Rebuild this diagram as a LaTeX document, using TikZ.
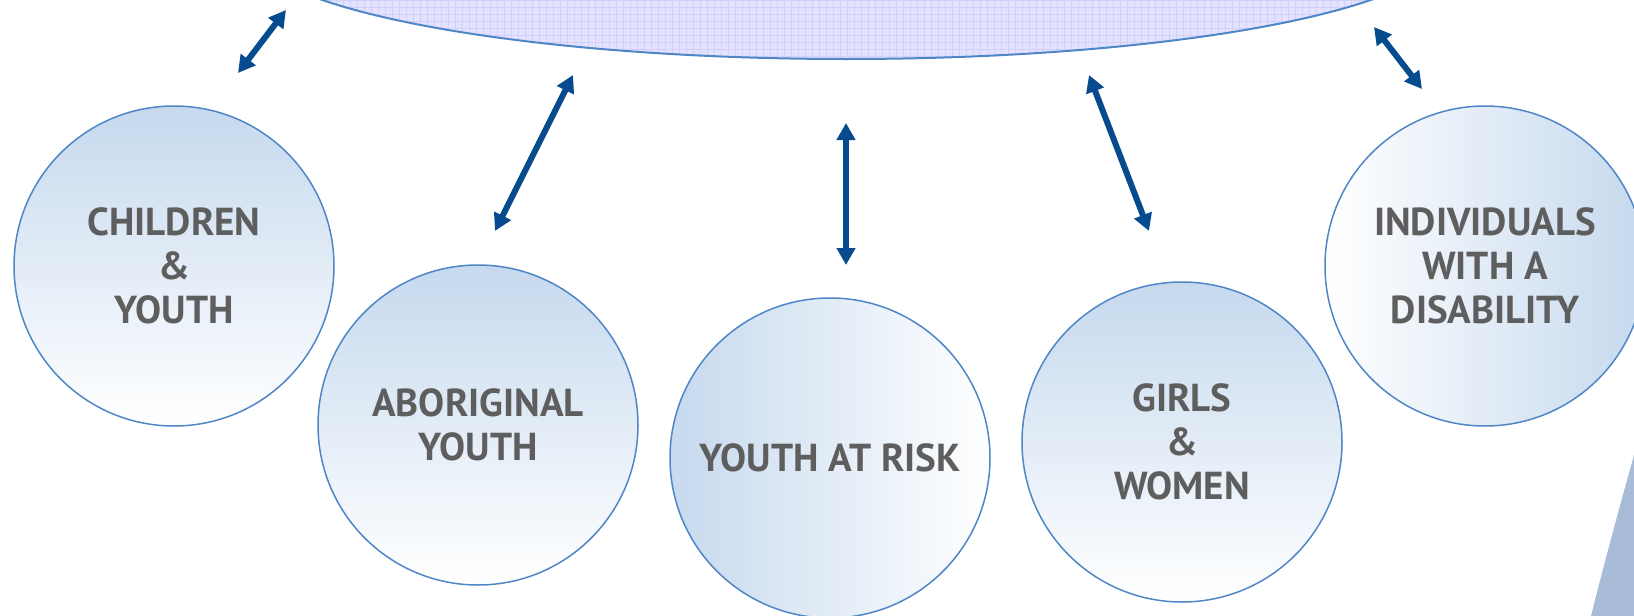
\documentclass[tikz,border=0pt]{standalone}
\usepackage{fontspec}
\setmainfont{PT Sans}
\usetikzlibrary{arrows.meta}
\definecolor{circleblue}{HTML}{C6D9EE}
\definecolor{rimblue}{HTML}{4F86C6}
\definecolor{arrowblue}{HTML}{064B8E}
\definecolor{txtgray}{HTML}{5E5E5E}
\definecolor{lavender}{HTML}{E3E3FF}
\definecolor{gridlav}{HTML}{D0D0FA}
\definecolor{cornerblue}{HTML}{A8BCD8}
\tikzset{
  groupcircle/.style={circle, draw=rimblue, line width=1.5pt, minimum size=320pt,
    inner sep=0pt, align=center, text=txtgray,
    font=\fontsize{39}{44}\selectfont\bfseries},
  vgrad/.style={top color=circleblue, bottom color=white},
  hgradL/.style={left color=circleblue, right color=white},
  hgradR/.style={left color=white, right color=circleblue},
  linkarrow/.style={draw=arrowblue, line width=6pt,
    {Triangle[length=17pt,width=18pt]}-{Triangle[length=17pt,width=18pt]}},
}
\begin{document}
\begin{tikzpicture}[x=1pt,y=-1pt]
\useasboundingbox (0,0) rectangle (1634,616);
\clip (0,0) rectangle (1634,616);
% top ellipse
\begin{scope}
  \clip (846.5,-56) ellipse [x radius=600pt, y radius=115pt];
  \fill[lavender] (240,0) rectangle (1450,62);
  \draw[gridlav, line width=1pt] (240,0) grid[step=7pt] (1450,62);
\end{scope}
\draw[rimblue, line width=2pt] (846.5,-56) ellipse [x radius=600pt, y radius=115pt];
% corner shape
\fill[cornerblue] (1591,616) .. controls (1605,560) and (1620,505) .. (1634,455) -- (1640,455) -- (1640,620) -- cycle;
% circles
\node[groupcircle, vgrad] (cy) at (174,266) {CHILDREN\\\&\\YOUTH};
\node[groupcircle, vgrad] (ab) at (478,425) {ABORIGINAL\\YOUTH};
\node[groupcircle, hgradL] (ar) at (830,458) {YOUTH AT RISK};
\node[groupcircle, vgrad] (gw) at (1182,442) {GIRLS\\\&\\WOMEN};
\node[groupcircle, hgradR] (id) at (1485,266) {INDIVIDUALS\\WITH A\\DISABILITY};
% arrow ends
\coordinate (a1s) at (238,73);   \coordinate (a1e) at (286,10);
\coordinate (a2s) at (495,231);  \coordinate (a2e) at (573,75);
\coordinate (a3s) at (846,265);  \coordinate (a3e) at (846,123);
\coordinate (a4s) at (1149,231); \coordinate (a4e) at (1089,75);
\coordinate (a5s) at (1422,89);  \coordinate (a5e) at (1374,27);
\draw[linkarrow] (a1s) -- (a1e);
\draw[linkarrow] (a2s) -- (a2e);
\draw[linkarrow] (a3s) -- (a3e);
\draw[linkarrow] (a4s) -- (a4e);
\draw[linkarrow] (a5s) -- (a5e);
\end{tikzpicture}
\end{document}
